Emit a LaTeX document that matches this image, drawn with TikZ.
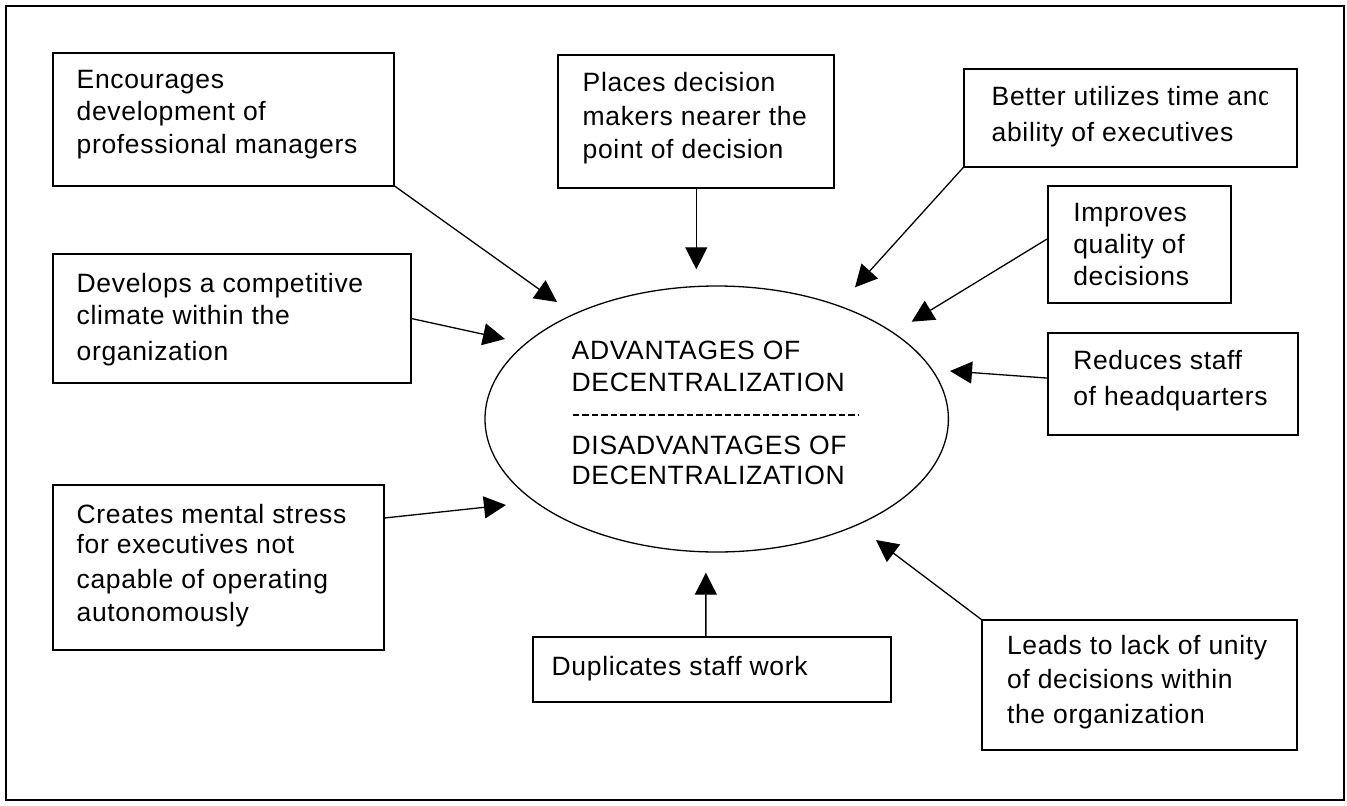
\documentclass[tikz,border=0pt]{standalone}
\usepackage{fontspec}
\setmainfont{Liberation Sans}[LetterSpace=2.5]
\usetikzlibrary{arrows.meta,shapes.geometric}
\begin{document}
\begin{tikzpicture}[x=1pt,y=-1pt,
  bx/.style={draw,line width=1.8pt,inner sep=0pt,outer sep=0pt,anchor=north west},
  txt/.style={anchor=north west,inner sep=0pt,outer sep=0pt,align=left,font=\fontsize{26.5}{#1}\selectfont},
  arr/.style={line width=1.3pt,-{Triangle[length=22pt,width=22pt]}}]
\useasboundingbox (0,0) rectangle (1347,806);
\draw[line width=2pt] (6,5.5) rectangle (1344,800);

% boxes
\node[bx,minimum width=341.3pt,minimum height=132.6pt] (b1) at (52.7,53) {};
\node[bx,minimum width=276pt,minimum height=132.7pt] (b2) at (558.3,55) {};
\node[bx,minimum width=332.7pt,minimum height=97.4pt] (b3) at (964,69.3) {};
\node[bx,minimum width=182.7pt,minimum height=117.3pt] (b4) at (1048.3,186) {};
\node[bx,minimum width=358pt,minimum height=128.7pt] (b5) at (52.7,254) {};
\node[bx,minimum width=249.4pt,minimum height=101.7pt] (b6) at (1048.3,333.3) {};
\node[bx,minimum width=331.6pt,minimum height=165pt] (b7) at (52.7,485) {};
\node[bx,minimum width=357.7pt,minimum height=65pt] (b8) at (533.3,636.7) {};
\node[bx,minimum width=315pt,minimum height=130pt] (b9) at (982,620) {};

% ellipse
\node[draw,ellipse,line width=1.3pt,inner sep=0pt,outer sep=0pt,minimum width=463.4pt,minimum height=266pt] (el) at (716.7,419) {};

% texts
\node[txt=32.5] (l1) at (76.7,70.2) {Encourages\\development of\\professional managers};
\node[txt=33.3] (l2) at (582.7,72.7) {Places decision\\makers nearer the\\point of decision};
\begin{scope}
\clip (962,70) rectangle (1267.5,165);
\node[txt=36] (l3) at (991.7,86) {Better utilizes time and\\ability of executives};
\end{scope}
\node[txt=32] (l4) at (1073.3,203.5) {Improves\\quality of\\decisions};
\node[txt=31.7] (l5) at (76.7,273.2) {Develops a competitive\\climate within the\\[5pt]organization};
\node[txt=36] (l6) at (1073.3,350.7) {Reduces staff\\of headquarters};
\node[txt=30] (l7) at (76.7,504.3) {Creates mental stress\\for executives not\\[5pt]capable of operating\\[3.4pt]autonomously};
\node[txt=32] (l8) at (551.7,656) {Duplicates staff work};
\node[txt=34] (l9) at (1007,635) {Leads to lack of unity\\of decisions within\\[1pt]the organization};
\node[txt=31.7] (le1) at (571.7,341) {ADVANTAGES OF\\DECENTRALIZATION};
\node[txt=30] (le2) at (571.7,436) {DISADVANTAGES OF\\DECENTRALIZATION};
\draw[line width=1.8pt,dash pattern=on 6.6pt off 2.9pt] (572.5,415) -- (859,415);

% arrow tips
\coordinate (t1) at (557,302);
\coordinate (t2) at (696.3,269.3);
\coordinate (t3) at (855,287.3);
\coordinate (t4) at (911.7,321.7);
\coordinate (t5) at (505,339);
\coordinate (t6) at (950,371);
\coordinate (t7) at (506,505);
\coordinate (t8) at (705.85,572.7);
\coordinate (t9) at (876,540);

\draw[arr] (b1.south east) -- (t1);
\draw[arr] (b2.south) -- (t2);
\draw[arr] (b3.south west) -- (t3);
\draw[arr] ([yshift=6.4pt]b4.west) -- (t4);
\draw[arr] (b5.east) -- (t5);
\draw[arr] ([yshift=6pt]b6.west) -- (t6);
\draw[arr] ([yshift=-33pt]b7.north east) -- (t7);
\draw[arr] ([xshift=-6.3pt]b8.north) -- (t8);
\draw[arr] (b9.north west) -- (t9);
\end{tikzpicture}
\end{document}
